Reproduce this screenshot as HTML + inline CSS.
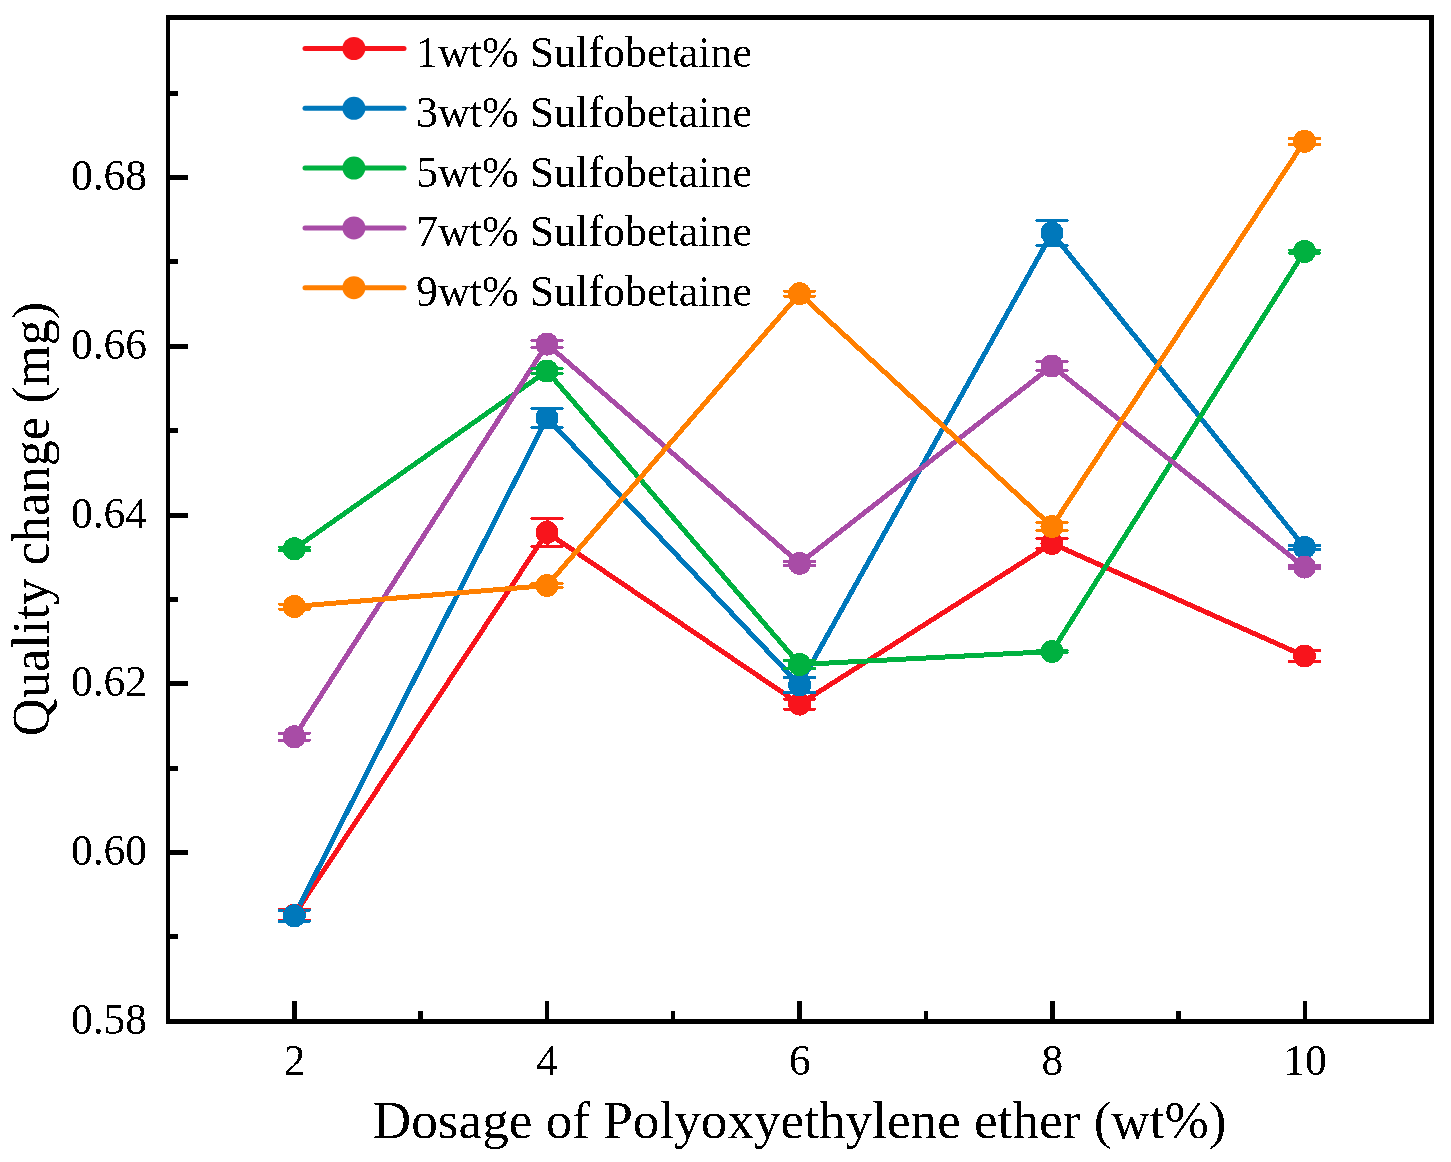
<!DOCTYPE html>
<html><head><meta charset="utf-8"><style>
html,body{margin:0;padding:0;background:#fff;width:1451px;height:1162px;overflow:hidden}
svg{position:absolute;left:0;top:0;display:block}
text{filter:url(#bin);font-family:"Liberation Serif",serif;fill:#000}
</style></head><body>
<svg width="1451" height="1162" viewBox="0 0 1451 1162">
<defs><filter id="bin" x="-5%" y="-15%" width="110%" height="130%" color-interpolation-filters="sRGB"><feComponentTransfer><feFuncA type="discrete" tableValues="0 1"/></feComponentTransfer></filter></defs>
<rect width="1451" height="1162" fill="#fff"/>

<g shape-rendering="crispEdges">
<polyline points="294.3,915.0 547.0,532.4 799.6,704.1 1052.0,543.5 1304.5,656.0" fill="none" stroke="#f8141c" stroke-width="5" stroke-linejoin="round"/>
<polyline points="294.3,915.8 547.0,418.0 799.6,685.0 1052.0,233.0 1304.5,547.4" fill="none" stroke="#0078bb" stroke-width="5" stroke-linejoin="round"/>
<polyline points="294.3,548.8 547.0,371.0 799.6,664.5 1052.0,651.5 1304.5,251.5" fill="none" stroke="#00b140" stroke-width="5" stroke-linejoin="round"/>
<polyline points="294.3,736.8 547.0,344.1 799.6,563.4 1052.0,366.0 1304.5,567.1" fill="none" stroke="#a84ca6" stroke-width="5" stroke-linejoin="round"/>
<polyline points="294.3,606.5 547.0,585.5 799.6,293.7 1052.0,526.5 1304.5,141.3" fill="none" stroke="#ff7f00" stroke-width="5" stroke-linejoin="round"/>
<path d="M294.3,909.5V920.5M279.1,909.5H309.5M279.1,920.5H309.5M547.0,518.4V546.4M531.8,518.4H562.2M531.8,546.4H562.2M799.6,699.1V709.1M784.4,699.1H814.8M784.4,709.1H814.8M1052.0,538.5V548.5M1036.8,538.5H1067.2M1036.8,548.5H1067.2M1304.5,650.5V661.5M1289.3,650.5H1319.7M1289.3,661.5H1319.7" fill="none" stroke="#f8141c" stroke-width="3" stroke-linecap="round"/>
<path d="M294.3,910.3V921.3M279.1,910.3H309.5M279.1,921.3H309.5M547.0,408.5V427.5M531.8,408.5H562.2M531.8,427.5H562.2M799.6,677.5V692.5M784.4,677.5H814.8M784.4,692.5H814.8M1052.0,220.5V245.5M1036.8,220.5H1067.2M1036.8,245.5H1067.2M1304.5,545.4V549.4M1289.3,545.4H1319.7M1289.3,549.4H1319.7" fill="none" stroke="#0078bb" stroke-width="3" stroke-linecap="round"/>
<path d="M294.3,547.0V550.6M279.1,547.0H309.5M279.1,550.6H309.5M547.0,368.5V373.5M531.8,368.5H562.2M531.8,373.5H562.2M799.6,660.5V668.5M784.4,660.5H814.8M784.4,668.5H814.8M1052.0,650.5V652.5M1036.8,650.5H1067.2M1036.8,652.5H1067.2M1304.5,250.0V253.0M1289.3,250.0H1319.7M1289.3,253.0H1319.7" fill="none" stroke="#00b140" stroke-width="3" stroke-linecap="round"/>
<path d="M294.3,733.3V740.3M279.1,733.3H309.5M279.1,740.3H309.5M547.0,340.6V347.6M531.8,340.6H562.2M531.8,347.6H562.2M799.6,561.4V565.4M784.4,561.4H814.8M784.4,565.4H814.8M1052.0,361.5V370.5M1036.8,361.5H1067.2M1036.8,370.5H1067.2M1304.5,565.6V568.6M1289.3,565.6H1319.7M1289.3,568.6H1319.7" fill="none" stroke="#a84ca6" stroke-width="3" stroke-linecap="round"/>
<path d="M294.3,604.0V609.0M279.1,604.0H309.5M279.1,609.0H309.5M547.0,583.5V587.5M531.8,583.5H562.2M531.8,587.5H562.2M799.6,291.2V296.2M784.4,291.2H814.8M784.4,296.2H814.8M1052.0,522.5V530.5M1036.8,522.5H1067.2M1036.8,530.5H1067.2M1304.5,138.3V144.3M1289.3,138.3H1319.7M1289.3,144.3H1319.7" fill="none" stroke="#ff7f00" stroke-width="3" stroke-linecap="round"/>
<circle cx="294.3" cy="915.0" r="11.5" fill="#f8141c"/>
<circle cx="547.0" cy="532.4" r="11.5" fill="#f8141c"/>
<circle cx="799.6" cy="704.1" r="11.5" fill="#f8141c"/>
<circle cx="1052.0" cy="543.5" r="11.5" fill="#f8141c"/>
<circle cx="1304.5" cy="656.0" r="11.5" fill="#f8141c"/>
<circle cx="294.3" cy="915.8" r="11.5" fill="#0078bb"/>
<circle cx="547.0" cy="418.0" r="11.5" fill="#0078bb"/>
<circle cx="799.6" cy="685.0" r="11.5" fill="#0078bb"/>
<circle cx="1052.0" cy="233.0" r="11.5" fill="#0078bb"/>
<circle cx="1304.5" cy="547.4" r="11.5" fill="#0078bb"/>
<circle cx="294.3" cy="548.8" r="11.5" fill="#00b140"/>
<circle cx="547.0" cy="371.0" r="11.5" fill="#00b140"/>
<circle cx="799.6" cy="664.5" r="11.5" fill="#00b140"/>
<circle cx="1052.0" cy="651.5" r="11.5" fill="#00b140"/>
<circle cx="1304.5" cy="251.5" r="11.5" fill="#00b140"/>
<circle cx="294.3" cy="736.8" r="11.5" fill="#a84ca6"/>
<circle cx="547.0" cy="344.1" r="11.5" fill="#a84ca6"/>
<circle cx="799.6" cy="563.4" r="11.5" fill="#a84ca6"/>
<circle cx="1052.0" cy="366.0" r="11.5" fill="#a84ca6"/>
<circle cx="1304.5" cy="567.1" r="11.5" fill="#a84ca6"/>
<circle cx="294.3" cy="606.5" r="11.5" fill="#ff7f00"/>
<circle cx="547.0" cy="585.5" r="11.5" fill="#ff7f00"/>
<circle cx="799.6" cy="293.7" r="11.5" fill="#ff7f00"/>
<circle cx="1052.0" cy="526.5" r="11.5" fill="#ff7f00"/>
<circle cx="1304.5" cy="141.3" r="11.5" fill="#ff7f00"/>
</g>
<g fill="#000" shape-rendering="crispEdges"><rect x="166" y="15" width="1268" height="5"/><rect x="166" y="1019" width="1268" height="5"/><rect x="166" y="15" width="4" height="1009"/><rect x="1429" y="15" width="5" height="1009"/><rect x="170" y="934" width="8" height="5"/><rect x="170" y="850" width="18" height="5"/><rect x="170" y="766" width="8" height="5"/><rect x="170" y="681" width="18" height="5"/><rect x="170" y="597" width="8" height="5"/><rect x="170" y="513" width="18" height="5"/><rect x="170" y="428" width="8" height="5"/><rect x="170" y="344" width="18" height="5"/><rect x="170" y="259" width="8" height="5"/><rect x="170" y="175" width="18" height="5"/><rect x="170" y="91" width="8" height="5"/><rect x="292" y="1001" width="5" height="18"/><rect x="418" y="1011" width="5" height="8"/><rect x="545" y="1001" width="4" height="18"/><rect x="671" y="1011" width="4" height="8"/><rect x="797" y="1001" width="5" height="18"/><rect x="924" y="1011" width="4" height="8"/><rect x="1050" y="1001" width="5" height="18"/><rect x="1176" y="1011" width="5" height="8"/><rect x="1303" y="1001" width="4" height="18"/></g>
<text x="147" y="1033.75" font-size="43.5" text-anchor="end">0.58</text>
<text x="147" y="865.00" font-size="43.5" text-anchor="end">0.60</text>
<text x="147" y="696.25" font-size="43.5" text-anchor="end">0.62</text>
<text x="147" y="527.50" font-size="43.5" text-anchor="end">0.64</text>
<text x="147" y="358.75" font-size="43.5" text-anchor="end">0.66</text>
<text x="147" y="190.00" font-size="43.5" text-anchor="end">0.68</text>
<text x="294.5" y="1075" font-size="43.5" text-anchor="middle">2</text>
<text x="547.1" y="1075" font-size="43.5" text-anchor="middle">4</text>
<text x="799.8" y="1075" font-size="43.5" text-anchor="middle">6</text>
<text x="1052.4" y="1075" font-size="43.5" text-anchor="middle">8</text>
<text x="1305.0" y="1075" font-size="43.5" text-anchor="middle">10</text>
<text x="799.7" y="1137.5" font-size="53.2" text-anchor="middle">Dosage of Polyoxyethylene ether (wt%)</text>
<text transform="translate(48.5,519) rotate(-90)" x="0" y="0" font-size="52.5" text-anchor="middle">Quality change (mg)</text>
<line x1="305" y1="48.5" x2="404" y2="48.5" stroke="#f8141c" stroke-width="5" stroke-linecap="round"/>
<circle cx="353.9" cy="48.5" r="11.5" fill="#f8141c"/>
<text x="416" y="67.0" font-size="44">1wt% Sulfobetaine</text>
<line x1="305" y1="108.3" x2="404" y2="108.3" stroke="#0078bb" stroke-width="5" stroke-linecap="round"/>
<circle cx="353.9" cy="108.3" r="11.5" fill="#0078bb"/>
<text x="416" y="126.8" font-size="44">3wt% Sulfobetaine</text>
<line x1="305" y1="168.1" x2="404" y2="168.1" stroke="#00b140" stroke-width="5" stroke-linecap="round"/>
<circle cx="353.9" cy="168.1" r="11.5" fill="#00b140"/>
<text x="416" y="186.6" font-size="44">5wt% Sulfobetaine</text>
<line x1="305" y1="227.9" x2="404" y2="227.9" stroke="#a84ca6" stroke-width="5" stroke-linecap="round"/>
<circle cx="353.9" cy="227.9" r="11.5" fill="#a84ca6"/>
<text x="416" y="246.4" font-size="44">7wt% Sulfobetaine</text>
<line x1="305" y1="287.7" x2="404" y2="287.7" stroke="#ff7f00" stroke-width="5" stroke-linecap="round"/>
<circle cx="353.9" cy="287.7" r="11.5" fill="#ff7f00"/>
<text x="416" y="306.2" font-size="44">9wt% Sulfobetaine</text>
</svg>
</body></html>
